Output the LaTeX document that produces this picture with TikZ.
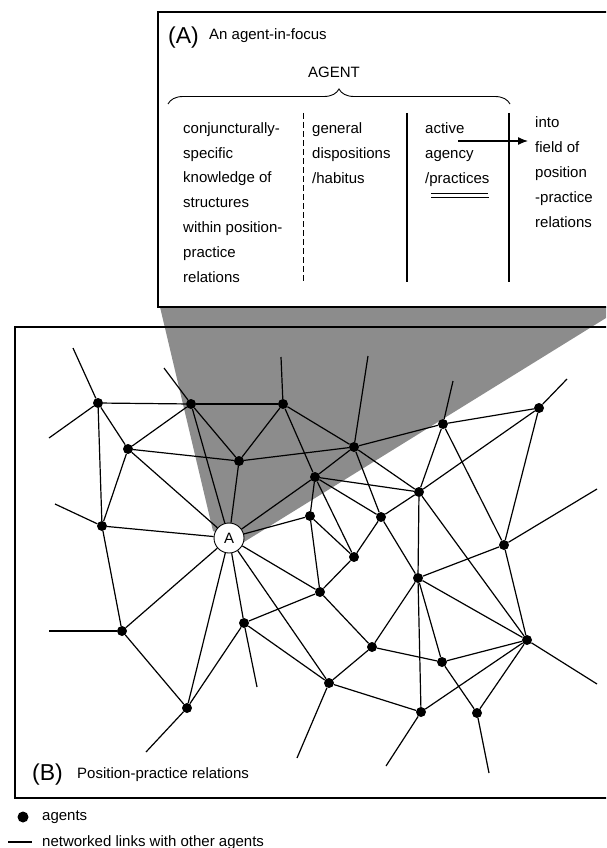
\documentclass[tikz,border=0pt]{standalone}
\usepackage{fontspec}
\setmainfont{Liberation Sans}
\usetikzlibrary{arrows.meta, decorations.pathreplacing}
\tikzset{agent/.style={circle, fill=black, inner sep=0pt, minimum size=10pt},
  focus/.style={circle, draw, fill=white, inner sep=0pt, minimum size=30pt, line width=0.9pt, font=\fontsize{15}{18}\selectfont},
  link/.style={line width=1.2pt},
  frame/.style={line width=2pt},
  txt/.style={inner sep=0pt, font=\fontsize{15}{24.8}\selectfont, align=left},
  panel/.style={inner sep=0pt, font=\fontsize{23}{26}\selectfont}}

\begin{document}
\begin{tikzpicture}[x=1pt, y=-1pt]
            \useasboundingbox (0,0) rectangle (606,848);
            \clip (0,0) rectangle (606,848);
            \fill[black!45] (160,307) -- (606,307) -- (606,318) -- (244,542) -- (213,531) -- cycle;
            \draw[frame] (15,327) rectangle (640,798);

            \node[agent] (agent_1) at (98,403) {};
            \node[agent] (agent_2) at (191,404) {};
            \node[agent] (agent_3) at (283,404) {};
            \node[agent] (agent_4) at (128,449) {};
            \node[agent] (agent_5) at (239,461) {};
            \node[agent] (agent_6) at (354,447) {};
            \node[agent] (agent_7) at (315,477) {};
            \node[agent] (agent_8) at (310,516) {};
            \node[agent] (agent_9) at (102,526) {};
            \node[agent] (agent_10) at (443,424) {};
            \node[agent] (agent_11) at (539,408) {};
            \node[agent] (agent_12) at (419,492) {};
            \node[agent] (agent_13) at (381,517) {};
            \node[agent] (agent_14) at (354,557) {};
            \node[agent] (agent_15) at (504,545) {};
            \node[agent] (agent_16) at (418,578) {};
            \node[agent] (agent_17) at (320,592) {};
            \node[agent] (agent_18) at (527,640) {};
            \node[agent] (agent_19) at (372,647) {};
            \node[agent] (agent_20) at (442,662) {};
            \node[agent] (agent_21) at (329,683) {};
            \node[agent] (agent_22) at (421,712) {};
            \node[agent] (agent_23) at (477,713) {};
            \node[agent] (agent_24) at (122,631) {};
            \node[agent] (agent_25) at (244,623) {};
            \node[agent] (agent_26) at (187,708) {};
            \node[focus] (agent_a) at (229,538) {A};

            \coordinate (loose_1) at (73,348);
            \coordinate (loose_2) at (49,438);
            \coordinate (loose_3) at (164,368);
            \coordinate (loose_4) at (281,357);
            \coordinate (loose_5) at (368,356);
            \coordinate (loose_6) at (55,504);
            \coordinate (loose_7) at (453,381);
            \coordinate (loose_8) at (567,379);
            \coordinate (loose_9) at (597,489);
            \coordinate (loose_10) at (597,684);
            \coordinate (loose_11) at (297,758);
            \coordinate (loose_12) at (386,766);
            \coordinate (loose_13) at (489,773);
            \coordinate (loose_14) at (49,631);
            \coordinate (loose_15) at (257,687);
            \coordinate (loose_16) at (146,752);

            \draw[link] (agent_1) edge (agent_2) (agent_1) edge (agent_4) (agent_1) edge (agent_9)
            (agent_1) edge (loose_1) (agent_1) edge (loose_2)
            (agent_2) edge (agent_3) (agent_2) edge (agent_4) (agent_2) edge (agent_5)
            (agent_2) edge (agent_a) (agent_2) edge (loose_3)
            (agent_3) edge (agent_5) (agent_3) edge (agent_6) (agent_3) edge (agent_7) (agent_3) edge (loose_4)
            (agent_4) edge (agent_5) (agent_4) edge (agent_a) (agent_4) edge (agent_9)
            (agent_5) edge (agent_a) (agent_5) edge (agent_6)
            (agent_6) edge (agent_10) (agent_6) edge (agent_7) (agent_6) edge (agent_12)
            (agent_6) edge (agent_13) (agent_6) edge (loose_5)
            (agent_7) edge (agent_a) (agent_7) edge (agent_8) (agent_7) edge (agent_12)
            (agent_7) edge (agent_13) (agent_7) edge (agent_14)
            (agent_8) edge (agent_a) (agent_8) edge (agent_14) (agent_8) edge (agent_17)
            (agent_9) edge (agent_a) (agent_9) edge (agent_24) (agent_9) edge (loose_6)
            (agent_10) edge (agent_11) (agent_10) edge (agent_12) (agent_10) edge (agent_15) (agent_10) edge (loose_7)
            (agent_11) edge (agent_12) (agent_11) edge (agent_15) (agent_11) edge (loose_8)
            (agent_12) edge (agent_16) (agent_12) edge (agent_13) (agent_12) edge (agent_18)
            (agent_13) edge (agent_14) (agent_13) edge (agent_16)
            (agent_14) edge (agent_17)
            (agent_15) edge (agent_16) (agent_15) edge (agent_18) (agent_15) edge (loose_9)
            (agent_16) edge (agent_18) (agent_16) edge (agent_19) (agent_16) edge (agent_20) (agent_16) edge (agent_22)
            (agent_17) edge (agent_a) (agent_17) edge (agent_19) (agent_17) edge (agent_25)
            (agent_18) edge (agent_20) (agent_18) edge (agent_22) (agent_18) edge (agent_23) (agent_18) edge (loose_10)
            (agent_19) edge (agent_20) (agent_19) edge (agent_21)
            (agent_20) edge (agent_23)
            (agent_21) edge (agent_22) (agent_21) edge (agent_25) (agent_21) edge (agent_a) (agent_21) edge (loose_11)
            (agent_22) edge (loose_12)
            (agent_23) edge (loose_13)
            (agent_24) edge (agent_26) (agent_24) edge (agent_a) (agent_24) edge (loose_14)
            (agent_25) edge (agent_26) (agent_25) edge (agent_a) (agent_25) edge (loose_15)
            (agent_26) edge (agent_a) (agent_26) edge (loose_16);

            \draw[frame, fill=white] (158,12) rectangle (640,307);
            \node[panel, anchor=base west] (tag_a) at (168,44) {(A)};
            \node[txt, anchor=base west] (title_a) at (209,40) {An agent-in-focus};
            \node[txt, anchor=base] (agent_word) at (334,78) {AGENT};
            \draw[decorate, decoration={brace, amplitude=15pt}, line width=0.9pt] (168,104) -- (510,104);
            \node[txt, anchor=base west] (knowledge_col) at (183,282) {conjuncturally-\\specific\\knowledge of\\structures\\within position-\\practice\\relations};
            \node[txt, anchor=base west] (habitus_col) at (312,183) {general\\dispositions\\/habitus};
            \node[txt, anchor=base west] (practices_col) at (425,183) {active\\agency\\/practices};
            \node[txt, anchor=base west] (field_col) at (535,227) {into\\field of\\position\\-practice\\relations};
            \draw[dashed, dash pattern=on 6pt off 3pt, line width=1pt] (303,113) -- (303,282);
            \draw[line width=1.2pt] (407,113) -- (407,282);
            \draw[line width=1.2pt] (509,113) -- (509,282);
            \draw[line width=0.8pt] (431,193) -- (488,193) (431,197) -- (489,197);
            \coordinate (arrow_tail) at (458,141);
            \coordinate (arrow_head) at (528,141);
            \draw[line width=1.3pt, -{Latex[length=10pt, width=8pt]}] (arrow_tail) -- (arrow_head);

            \node[panel, anchor=base west] (tag_b) at (32,780) {(B)};
            \node[txt, anchor=base west] (title_b) at (77,778) {Position-practice relations};

            \node[agent, minimum size=11pt] (key_dot) at (23,817) {};
            \node[txt, anchor=base west] (key_agents) at (42,820) {agents};
            \coordinate (key_from) at (8,842);
            \coordinate (key_to) at (32,842);
            \draw[link] (key_from) -- (key_to);
            \node[txt, anchor=base west] (key_links) at (42,846) {networked links with other agents};
      \end{tikzpicture}
\end{document}
